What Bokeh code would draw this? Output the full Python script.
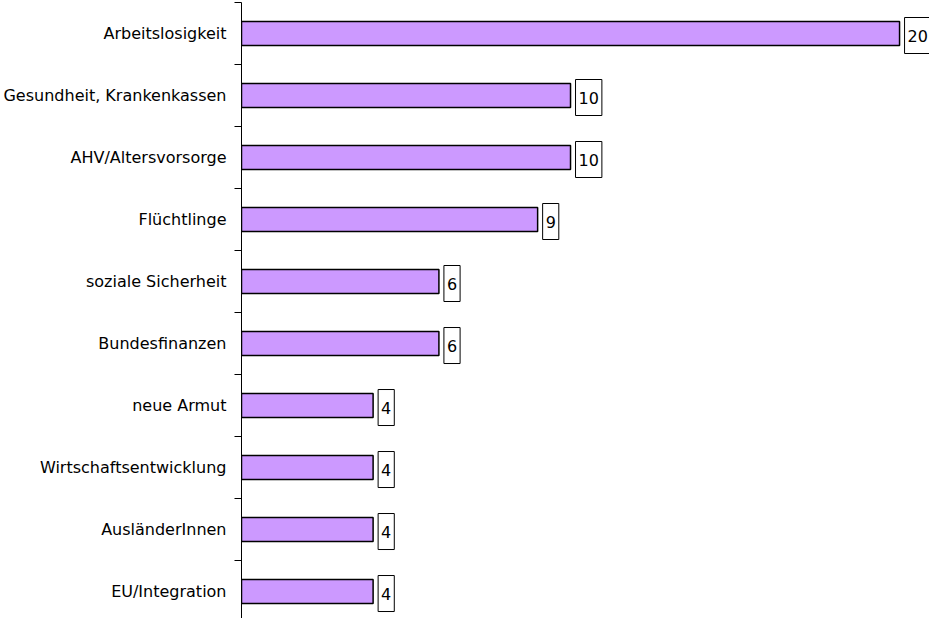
from bokeh.plotting import figure
from bokeh.models import Range1d, FixedTicker, ColumnDataSource
from bokeh.core.properties import value
from bokeh.embed import file_html
from bokeh.resources import INLINE

categories = ["Arbeitslosigkeit", "Gesundheit, Krankenkassen", "AHV/Altersvorsorge",
              "Flüchtlinge", "soziale Sicherheit", "Bundesfinanzen", "neue Armut",
              "Wirtschaftsentwicklung", "AusländerInnen", "EU/Integration"]
values = [20, 10, 10, 9, 6, 6, 4, 4, 4, 4]

n = len(categories)
centers = [i + 0.5 for i in range(n)]
bounds = [float(i) for i in range(n + 1)]

src = ColumnDataSource(dict(y=centers, v=values, cat=categories, lab=[str(v) for v in values]))

p = figure(width=929, height=618, output_backend="svg", toolbar_location=None,
           x_range=Range1d(0, 20.91), y_range=Range1d(9.935, 0),
           min_border_left=241, min_border_right=0, min_border_top=2, min_border_bottom=0)
p.outline_line_color = None
p.grid.visible = False
p.xaxis.visible = False

p.hbar(y="y", left=0, right="v", height=0.39, source=src,
       fill_color="#CC99FF", line_color="black", line_width=1.5)

p.text(x="v", y="y", text="lab", source=src, x_offset=5, y_offset=2,
       text_baseline="middle", text_align="left",
       text_font=value("DejaVu Sans"), text_font_size="16px", text_color="black",
       border_line_color="black", border_line_width=1,
       padding=dict(left=3, right=3, top=12, bottom=12))

ax = p.yaxis[0]
ax.ticker = FixedTicker(ticks=centers, minor_ticks=bounds)
ax.major_label_overrides = {c: name for c, name in zip(centers, categories)}
ax.major_tick_out = 0
ax.major_tick_in = 0
ax.minor_tick_out = 7
ax.minor_tick_in = 0
ax.minor_tick_line_color = "black"
ax.axis_line_color = "black"
ax.major_label_text_font = "DejaVu Sans"
ax.major_label_text_font_size = "16px"
ax.major_label_text_color = "black"
ax.major_label_standoff = 8

open("out.html", "w").write(file_html(p, INLINE))
